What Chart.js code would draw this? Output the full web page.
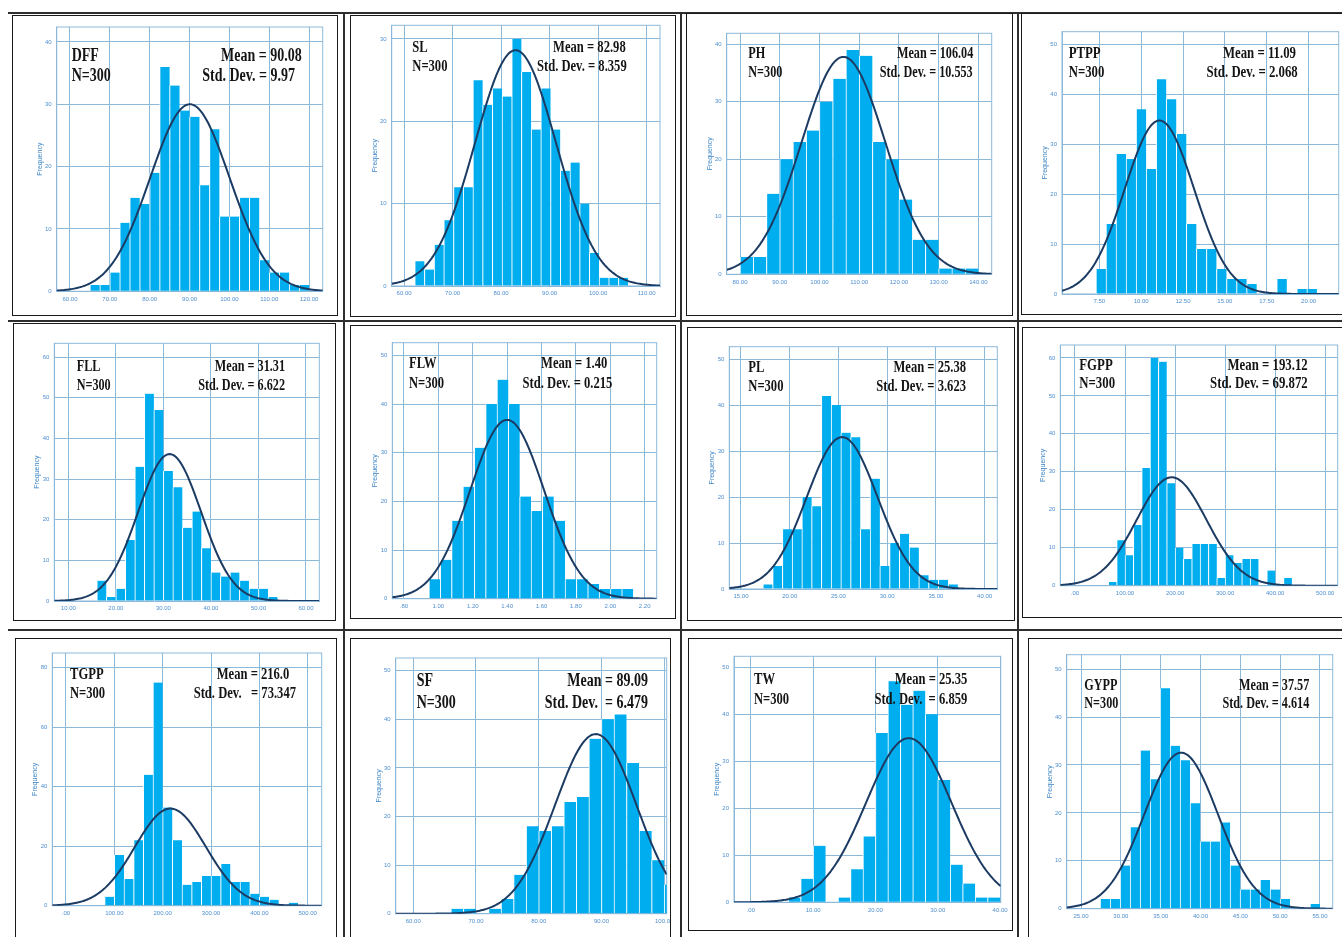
<!DOCTYPE html>
<html>
<head>
<meta charset="utf-8">
<script src="https://cdn.jsdelivr.net/npm/chart.js@4.4.1/dist/chart.umd.min.js"></script>
<style>
  html, body { margin: 0; padding: 0; background: #fff; }
  body { position: relative; width: 1342px; height: 937px; overflow: hidden; }
  canvas { position: absolute; }
  .rule { position: absolute; background: #2e2e2e; }
  .box { position: absolute; border: 1.5px solid #1a1a1a; box-sizing: border-box; pointer-events: none; }
  .lbl { position: absolute; font-family: 'Liberation Serif', 'Times New Roman', serif; font-weight: bold;
         color: #141414; white-space: pre; line-height: 1; }
</style>
</head>
<body>
<script>
// ---- data ----
const variableNames = ['DFF', 'SL', 'PH', 'PTPP', 'FLL', 'FLW', 'PL', 'FGPP', 'TGPP', 'SF', 'TW', 'GYPP'];
const sampleSizes = [300, 300, 300, 300, 300, 300, 300, 300, 300, 300, 300, 300];
const means = [90.08, 82.98, 106.04, 11.09, 31.31, 1.40, 25.38, 193.12, 216.0, 89.09, 25.35, 37.57];
const meanLabels = ['90.08', '82.98', '106.04', '11.09', '31.31', '1.40', '25.38', '193.12', '216.0', '89.09', '25.35', '37.57'];
const stdDevs = [9.97, 8.359, 10.553, 2.068, 6.622, 0.215, 3.623, 69.872, 73.347, 6.479, 6.859, 4.614];
const stdDevLabels = ['Std. Dev. = 9.97', 'Std. Dev. = 8.359', 'Std. Dev. = 10.553', 'Std. Dev. = 2.068',
                      'Std. Dev. = 6.622', 'Std. Dev. = 0.215', 'Std. Dev. = 3.623', 'Std. Dev. = 69.872',
                      'Std. Dev.   = 73.347', 'Std. Dev.  = 6.479', 'Std. Dev.  = 6.859', 'Std. Dev. = 4.614'];

// first bin edge and bin width of each histogram
const binStarts = [65, 62.2, 80, 7.3, 16, 0.945, 17.25, 66.7, 80, 66, 6, 27.4];
const binWidths = [2.5, 2, 3.333, 0.6, 2, 0.066, 1, 16.67, 20, 2, 2, 1.255];

const dffCounts  = [1, 1, 3, 11, 15, 14, 19, 36, 33, 29, 28, 17, 26, 12, 12, 15, 15, 5, 3, 3, 1, 1];
const slCounts   = [3, 2, 5, 8, 12, 12, 25, 22, 24, 23, 30, 26, 19, 24, 19, 14, 15, 10, 4, 1, 1, 1];
const phCounts   = [3, 3, 14, 20, 23, 25, 30, 34, 39, 38, 23, 20, 13, 6, 6, 1, 1, 1];
const ptppCounts = [5, 14, 28, 27, 37, 25, 43, 39, 32, 14, 9, 9, 5, 3, 3, 2, 0, 0, 3, 0, 1, 1];
const fllCounts  = [5, 1, 3, 15, 33, 51, 47, 32, 28, 18, 22, 13, 7, 6, 7, 5, 3, 3, 1];
const flwCounts  = [4, 8, 16, 23, 31, 40, 45, 40, 21, 18, 21, 16, 4, 4, 3, 2, 2, 2];
const plCounts   = [1, 5, 13, 13, 20, 18, 42, 40, 34, 33, 13, 24, 5, 10, 12, 9, 3, 2, 2, 1];
const fgppCounts = [1, 12, 8, 16, 31, 60, 59, 27, 10, 7, 11, 11, 11, 2, 8, 6, 7, 7, 0, 4, 0, 2];
const tgppCounts = [3, 17, 9, 22, 44, 75, 33, 22, 7, 8, 10, 10, 14, 8, 8, 4, 3, 2, 0, 1];
const sfCounts   = [1, 1, 0, 1, 3, 8, 18, 17, 18, 23, 24, 36, 40, 41, 31, 17, 11, 6];
const twCounts   = [1, 5, 12, 0, 1, 7, 14, 36, 47, 42, 45, 40, 26, 8, 4, 1, 1];
const gyppCounts = [2, 2, 9, 17, 33, 27, 46, 34, 31, 22, 14, 14, 18, 9, 4, 4, 6, 4, 2, 0, 0, 1];
const allCounts = [dffCounts, slCounts, phCounts, ptppCounts, fllCounts, flwCounts,
                   plCounts, fgppCounts, tgppCounts, sfCounts, twCounts, gyppCounts];

// axis ranges and tick steps
const xMins = [56.67, 57.45, 76.65, 5.27, 7.05, 0.732, 13.8, -29.3, -28.3, 57.2, -2.7, 23.2];
const xMaxs = [123.4, 112.76, 143.35, 21.8, 62.8, 2.27, 41.3, 525, 529, 100.4, 40.1, 56.6];
const xSteps = [10, 10, 10, 2.5, 10, 0.2, 5, 100, 100, 10, 10, 5];
const yMaxs = [42.4, 31.66, 41.9, 52.5, 63.4, 52.6, 52.7, 63.4, 84.9, 52.6, 52.3, 53];
const ySteps = [10, 10, 10, 10, 10, 10, 10, 10, 20, 10, 10, 10];

// ---- page layout (pixels) ----
const tableRows = [12, 320, 629];
const tableCols = [343, 680, 1017];
// panel frame: left, top, right, bottom
const panelBoxes = [
  [12, 15, 338, 316], [350, 15, 676, 317], [686, 13, 1013, 316], [1021, 13, 1346, 315],
  [13, 323, 336, 621], [350, 325, 676, 619], [687, 327, 1015, 621], [1022, 327, 1346, 618],
  [15, 638, 337, 946], [350, 638, 671, 946], [688, 638, 1013, 931], [1028, 638, 1346, 946]
];
// plot area: left, top, right, bottom
const plotRects = [
  [56.7, 27, 322.7, 291.3], [391.7, 25.3, 660, 286], [726.7, 33.3, 991.7, 274.3], [1062, 31.7, 1338.7, 294],
  [54.3, 343.3, 319.3, 601], [392.3, 342.7, 656.7, 598.7], [729.3, 346.7, 997.3, 589], [1060.3, 345, 1337.7, 585.7],
  [52.3, 653, 321.7, 905.7], [395.7, 658, 666.7, 913.7], [734, 656.3, 1000.7, 902.3], [1066.7, 654.7, 1332.7, 908.7]
];
// text: name x, line1 y, line2 y, mean right x, std right x, font size
const textSpots = [
  [71.7, 56, 76, 301.7, 295, 14], [412.3, 47, 66, 625.7, 626.7, 12.6], [748.3, 53.3, 72.3, 973.3, 972.7, 12.2],
  [1068.7, 53.3, 72.3, 1296, 1297.7, 12.8], [76.7, 366, 385, 285, 285, 12.2], [409, 363.3, 382.7, 607.3, 612.3, 12.6],
  [748.3, 366.7, 385.7, 966, 966, 12.6], [1079.3, 365, 383.3, 1307.7, 1307.7, 12.8], [70, 673.7, 693, 289.3, 296, 12.6],
  [416.7, 681.3, 703, 648, 648, 14], [754, 678.7, 698.7, 967.3, 967.3, 12.6], [1084.3, 685.3, 703, 1309.3, 1309.3, 12.2]
];

const barColor = '#00aeef';
const curveColor = '#1c3b63';
const gridColor = '#8cb9da';
const tickColor = '#4f8fcf';

function el(tag, cls, css) {
  const e = document.createElement(tag);
  if (cls) e.className = cls;
  Object.assign(e.style, css || {});
  document.body.appendChild(e);
  return e;
}

// SPSS style tick text: 60.00, .80, .00
function tickText(v) {
  let s = Number(v).toFixed(2);
  if (s.startsWith('0.')) s = s.slice(1);
  return s;
}

// stroke the whole plot frame (top/right edges included)
const plotFrame = {
  id: 'plotFrame',
  beforeDatasetsDraw(chart) {
    const a = chart.chartArea, ctx = chart.ctx;
    ctx.save();
    ctx.strokeStyle = gridColor;
    ctx.lineWidth = 1;
    ctx.strokeRect(a.left, a.top, a.right - a.left, a.bottom - a.top);
    ctx.restore();
  }
};

function drawPanel(i) {
  const [bl, bt, br, bb] = panelBoxes[i];
  const [pl, pt, pr, pb] = plotRects[i];
  const w = br - bl, h = bb - bt;
  const cv = el('canvas', null, { left: bl + 'px', top: bt + 'px' });
  cv.width = w; cv.height = h;

  const start = binStarts[i], bw = binWidths[i];
  const bars = allCounts[i].map((c, k) => ({ x: start + (k + 0.5) * bw, y: c }));

  // fitted normal curve from the printed mean / std. dev.
  const curve = [];
  const mu = means[i], sd = stdDevs[i], n = sampleSizes[i];
  const steps = 200;
  for (let k = 0; k <= steps; k++) {
    const x = xMins[i] + (xMaxs[i] - xMins[i]) * k / steps;
    const z = (x - mu) / sd;
    curve.push({ x: x, y: n * bw * Math.exp(-0.5 * z * z) / (sd * Math.sqrt(2 * Math.PI)) });
  }

  const titleX = pl - 17;
  const padLeft = titleX - bl - 4;
  const yWidth = pl - bl - padLeft;
  const xHeight = bb - pb;

  new Chart(cv, {
    type: 'bar',
    data: {
      datasets: [
        { type: 'line', data: curve, borderColor: curveColor, borderWidth: 2, pointRadius: 0, fill: false, order: 1 },
        { type: 'bar', data: bars, backgroundColor: barColor, borderColor: '#ffffff',
          borderWidth: { left: 1, right: 0, top: 0, bottom: 0 }, borderSkipped: false,
          barPercentage: 1, categoryPercentage: 1, order: 2 }
      ]
    },
    options: {
      responsive: false,
      animation: false,
      events: [],
      layout: { padding: { left: padLeft, top: pt - bt, right: br - pr, bottom: 0 } },
      plugins: { legend: { display: false }, tooltip: { enabled: false } },
      scales: {
        x: {
          type: 'linear', min: xMins[i], max: xMaxs[i], offset: false,
          grid: { color: gridColor, lineWidth: 1, drawTicks: false, offset: false },
          border: { color: gridColor },
          ticks: { stepSize: xSteps[i], includeBounds: false, autoSkip: false, maxRotation: 0, padding: 4,
                   color: tickColor, font: { size: 6, family: 'Liberation Sans' }, callback: tickText },
          afterFit: s => { s.height = xHeight; s.paddingLeft = 0; s.paddingRight = 0; }
        },
        y: {
          min: 0, max: yMaxs[i],
          grid: { color: gridColor, lineWidth: 1, drawTicks: false },
          border: { color: gridColor },
          ticks: { stepSize: ySteps[i], includeBounds: false, padding: 5,
                   color: tickColor, font: { size: 6, family: 'Liberation Sans' } },
          title: { display: true, text: 'Frequency', color: '#3d85c6', padding: 0,
                   font: { size: 7, family: 'Liberation Sans' } },
          afterFit: s => { s.width = yWidth; }
        }
      }
    },
    plugins: [plotFrame]
  });

  el('div', 'box', { left: bl + 'px', top: bt + 'px', width: w + 'px', height: h + 'px' });

  const [nx, y1, y2, mr, sr, fs] = textSpots[i];
  const put = (txt, x, y, right) => {
    const d = el('div', 'lbl', {
      left: x + 'px', top: y + 'px', fontSize: fs + 'px',
      transform: (right ? 'translate(-100%, -50%)' : 'translate(0, -50%)') + ' scaleY(1.3)'
    });
    d.textContent = txt;
  };
  put(variableNames[i], nx, y1, false);
  put('N=' + sampleSizes[i], nx, y2, false);
  put('Mean = ' + meanLabels[i], mr, y1, true);
  put(stdDevLabels[i], sr, y2, true);
}

tableRows.forEach(y => el('div', 'rule', { left: '8px', top: y + 'px', width: '1334px', height: '2px' }));
tableCols.forEach(x => el('div', 'rule', { left: x + 'px', top: tableRows[0] + 'px', width: '2px', height: (937 - tableRows[0]) + 'px' }));

for (let i = 0; i < variableNames.length; i++) drawPanel(i);
</script>
</body>
</html>
